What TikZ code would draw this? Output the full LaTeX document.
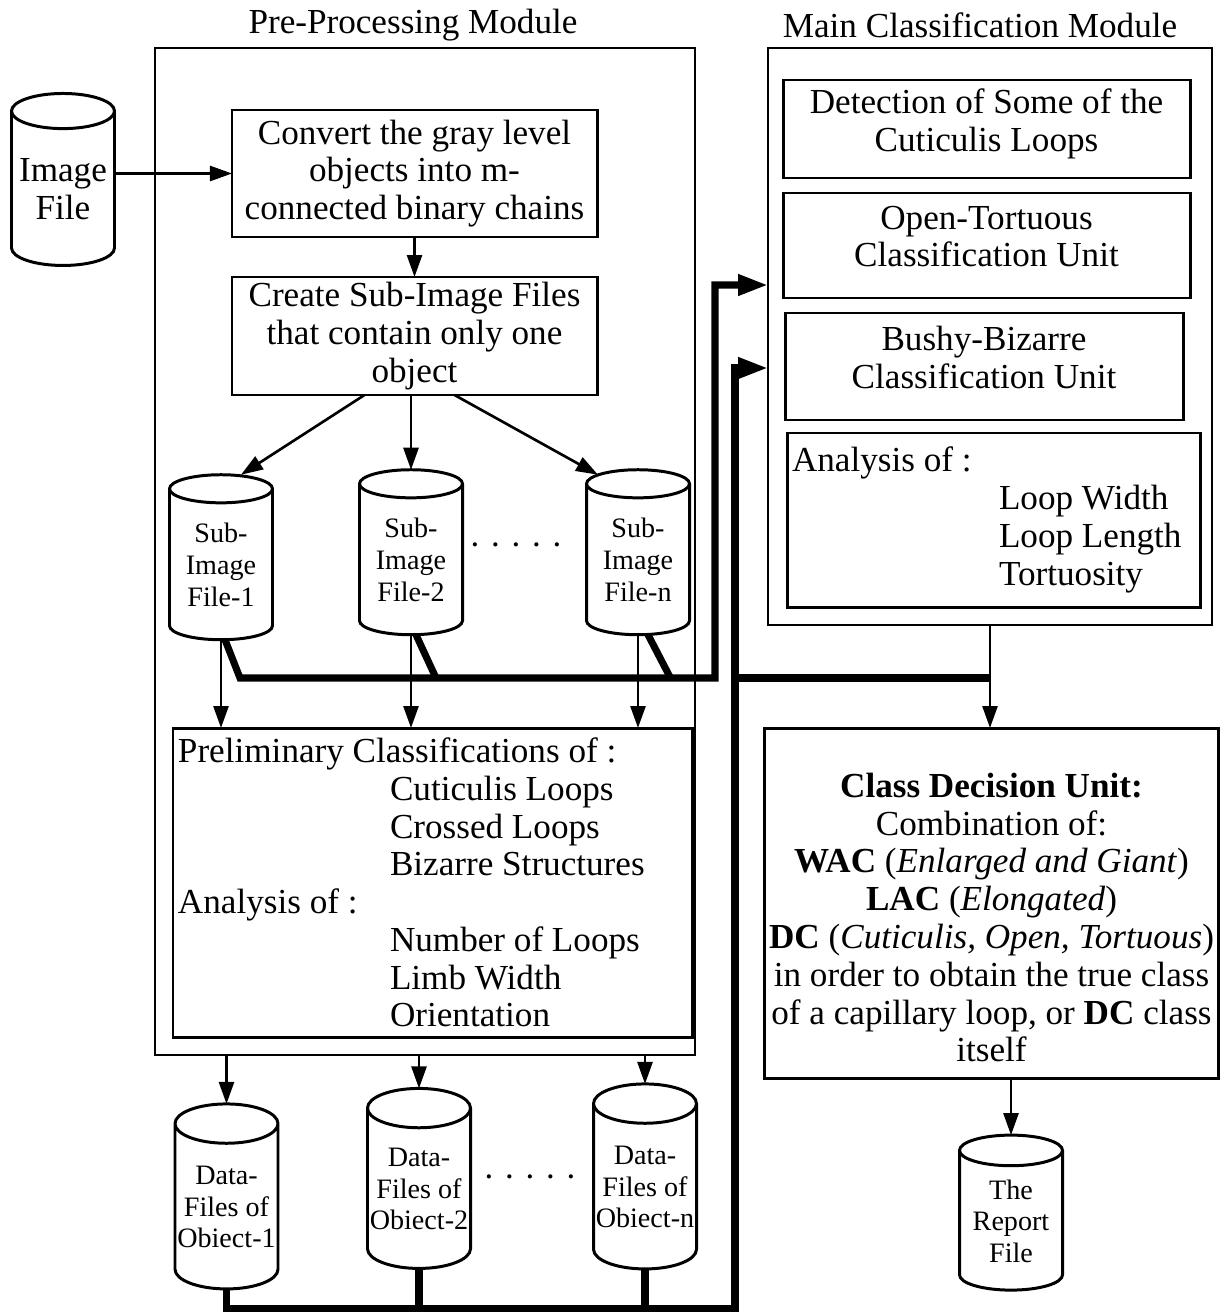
\documentclass[tikz,border=0pt]{standalone}
\usepackage{fontspec}
\setmainfont{Liberation Serif}
\usetikzlibrary{shapes.geometric, arrows.meta}

\begin{document}
\begin{tikzpicture}[x=0.2mm, y=-0.2mm,
    every node/.style={font=\fontsize{20}{21.5}\selectfont, outer sep=0pt},
    module/.style={draw, line width=1.1pt},
    box/.style={draw, line width=1.7pt, align=center, inner sep=1mm},
    unit/.style={box, text depth=10.5pt},
    store/.style={draw, line width=1.7pt, cylinder, shape border rotate=90, aspect=0.4,
        align=center, minimum width=20.6mm, inner xsep=0pt, inner ysep=1mm,
        font=\fontsize{16}{18}\selectfont},
    arrow/.style={line width=1.5pt, -{Triangle[length=4.4mm, width=3mm]}},
    bus/.style={line width=4pt},
    busarrow/.style={bus, -{Triangle[length=6mm, width=4mm]}}]
    \useasboundingbox (0, 0) rectangle (1220, 1315);

    \node[](pretitle) at (413, 25) {Pre-Processing Module};
    \node[](maintitle) at (980, 25) {Main Classification Module};
    \node[module, minimum width=108mm, minimum height=201.4mm](premod) at (425, 551.5) {};
    \node[module, minimum width=88.8mm, minimum height=115.4mm](mainmod) at (990, 336.5) {};

    % pre-processing side
    \node[store, font=\fontsize{20}{21.5}\selectfont, minimum height=34.4mm](imgfile) at (63, 189) {Image\\File};
    \node[box, minimum width=73mm, minimum height=25.4mm](convert) at (414.5, 173.5) {Convert the gray level\\objects into m-\\connected binary chains};
    \node[box, minimum width=73mm, minimum height=23.6mm](create) at (414.5, 336) {Create Sub-Image Files\\that contain only one\\object};

    \node[store, minimum height=33mm](sub1) at (221, 565) {Sub-\\Image\\File-1};
    \node[store, minimum height=33mm](sub2) at (411, 560) {Sub-\\Image\\File-2};
    \node[store, minimum height=33mm](subn) at (638, 560) {Sub-\\Image\\File-n};
    \node[](dotsA) at (516, 550) {· · · · ·};

    \node[box, align=flush left, text width=101.8mm, minimum height=61.8mm](prelim) at (432.5, 882.5) {Preliminary Classifications of :\\
        \hspace*{42.4mm}Cuticulis Loops\\
        \hspace*{42.4mm}Crossed Loops\\
        \hspace*{42.4mm}Bizarre Structures\\
        Analysis of :\\
        \hspace*{42.4mm}Number of Loops\\
        \hspace*{42.4mm}Limb Width\\
        \hspace*{42.4mm}Orientation};

    \node[store, minimum height=37mm](data1) at (226.5, 1207) {Data-\\Files of\\Obiect-1};
    \node[store, minimum height=36mm](data2) at (419, 1189) {Data-\\Files of\\Obiect-2};
    \node[store, minimum height=37mm](datan) at (645, 1187) {Data-\\Files of\\Obiect-n};
    \node[](dotsB) at (530, 1182) {· · · · ·};

    % main classification side
    \node[unit, minimum width=81.4mm, minimum height=19.6mm](detect) at (986.5, 129) {Detection of Some of the\\Cuticulis Loops};
    \node[unit, minimum width=81.4mm, minimum height=21mm](opentort) at (986.5, 245.5) {Open-Tortuous\\Classification Unit};
    \node[unit, minimum width=79.6mm, minimum height=21.4mm](bushy) at (984, 366.5) {Bushy-Bizarre\\Classification Unit};
    \node[box, align=flush left, text width=80.6mm, minimum height=34.8mm](analysis) at (993.5, 520) {Analysis of :\\
        \hspace*{41.4mm}Loop Width\\
        \hspace*{41.4mm}Loop Length\\
        \hspace*{41.4mm}Tortuosity};

    \node[box, minimum width=89.4mm, minimum height=70mm, text height=181pt](decide) at (991.5, 903) {\textbf{Class Decision Unit:}\\
        Combination of:\\
        \textbf{WAC} (\textit{Enlarged and Giant})\\
        \textbf{LAC} (\textit{Elongated})\\
        \textbf{DC} (\textit{Cuticulis, Open, Tortuous})\\
        in order to obtain the true class\\
        of a capillary loop, or \textbf{DC} class\\
        itself};
    \node[store, minimum height=31mm](report) at (1011, 1221) {The\\Report\\File};

    \coordinate(busA) at (715, 678);
    \coordinate(busB) at (735, 1308);
    \coordinate(inA) at (768, 285);
    \coordinate(inB) at (768, 368);

    \path[arrow] (imgfile.east |- convert.west) edge (convert.west)
        (convert.south) edge (create.north)
        ([xshift=-10mm]create.south) edge ([xshift=4mm]sub1.north)
        (create.south -| sub2.north) edge (sub2.north)
        ([xshift=8mm]create.south) edge ([xshift=-8mm, yshift=-1mm]subn.north);
    \path[arrow] (sub1.south) edge (sub1.south |- prelim.north)
        (sub2.south) edge (sub2.south |- prelim.north)
        (subn.south) edge (subn.south |- prelim.north);
    \path[arrow] (data1.north |- premod.south) edge (data1.north)
        (data2.north |- premod.south) edge (data2.north)
        (datan.north |- premod.south) edge (datan.north);
    \path[arrow] (mainmod.south) edge (mainmod.south |- decide.north)
        (report.north |- decide.south) edge (report.north);

    \draw[busarrow] ([xshift=0.8mm]sub1.south) -- ([xshift=3.8mm]sub1.south |- busA) -- (busA) |- (inA);
    \draw[bus] ([xshift=1mm]sub2.south) -- ([xshift=5mm]sub2.south |- busA)
        ([xshift=2mm]subn.south) -- ([xshift=6.5mm]subn.south |- busA);
    \draw[busarrow] (data1.south) |- (busB) |- (inB);
    \draw[bus] (data2.south) -- (data2.south |- busB)
        (datan.south) -- (datan.south |- busB);
    \draw[bus] (busB |- busA) -- (mainmod.south |- busA);
\end{tikzpicture}
\end{document}
